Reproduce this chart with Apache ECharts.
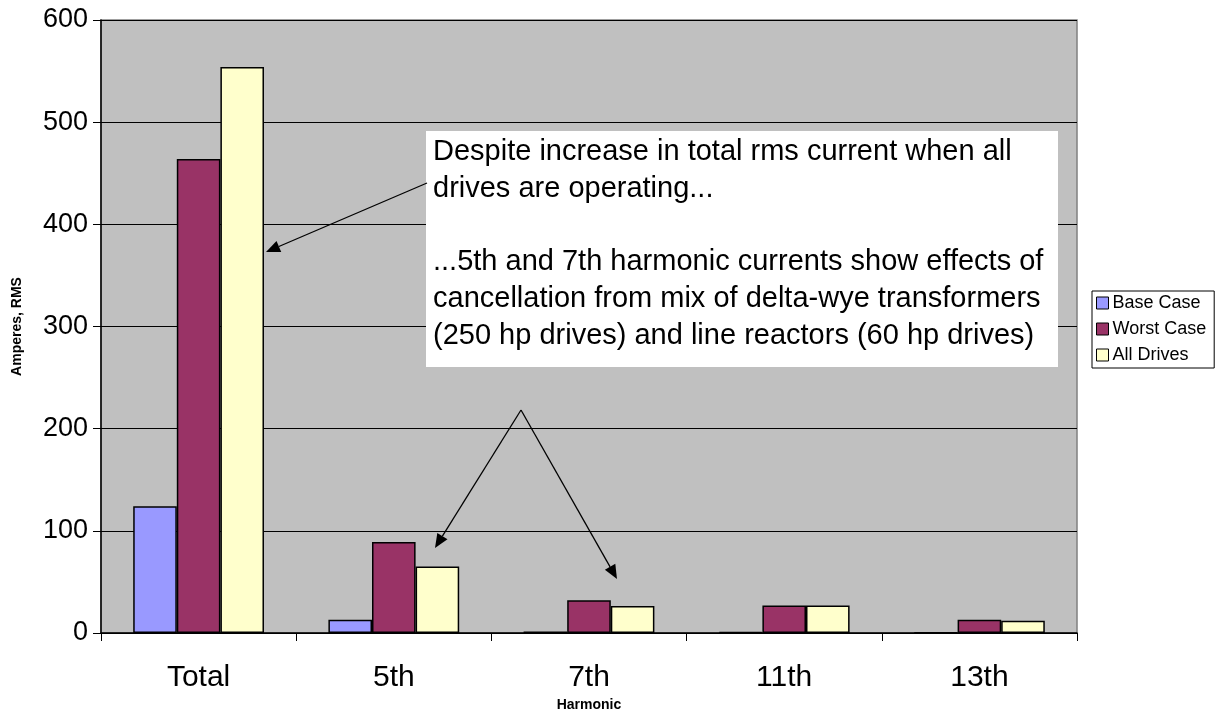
<!DOCTYPE html>
<html>
<head>
<meta charset="utf-8">
<script src="https://cdn.jsdelivr.net/npm/echarts@6/dist/echarts.min.js"></script>
<style>
html,body{margin:0;padding:0;background:#fff;}
#chart{width:1219px;height:723px;}
</style>
</head>
<body>
<div id="chart"></div>
<script>
const categories = ['Total', '5th', '7th', '11th', '13th'];
const baseCase = [124, 13, 1.5, 1, 0.5];
const worstCase = [464, 89, 32, 27, 13];
const allDrives = [554, 65, 26.5, 27, 12];
const yTicks = [0, 100, 200, 300, 400, 500, 600];
const seriesNames = ['Base Case', 'Worst Case', 'All Drives'];
const seriesColors = ['#9999FF', '#993366', '#FFFFCC'];
const noteLines1 = ['Despite increase in total rms current when all', 'drives are operating...'];
const noteLines2 = ['...5th and 7th harmonic currents show effects of', 'cancellation from mix of delta-wye transformers', '(250 hp drives) and line reactors (60 hp drives)'];

const FONT = 'Liberation Sans, Arial, sans-serif';
const chart = echarts.init(document.getElementById('chart'), null, {renderer: 'canvas'});

function arrow(x1, y1, x2, y2) {
  const ang = Math.atan2(y2 - y1, x2 - x1);
  const len = 14, half = 6;
  const bx = x2 - len * Math.cos(ang), by = y2 - len * Math.sin(ang);
  const px = -Math.sin(ang) * half, py = Math.cos(ang) * half;
  return [
    {type: 'line', shape: {x1: x1, y1: y1, x2: bx, y2: by}, style: {stroke: '#000', lineWidth: 1.3}, z: 100},
    {type: 'polygon', shape: {points: [[x2, y2], [bx + px, by + py], [bx - px, by - py]]}, style: {fill: '#000'}, z: 100}
  ];
}

const mk = (vals, i) => ({
  name: seriesNames[i],
  type: 'bar',
  data: vals,
  barGap: '0%',
  barCategoryGap: '33%',
  itemStyle: {color: seriesColors[i], borderColor: '#000', borderWidth: 1.5},
  emphasis: {disabled: true}
});

const graphics = [
  {type: 'rect', shape: {x: 426, y: 131, width: 632, height: 236}, style: {fill: '#fff'}, z: 90},
  {type: 'text', x: 433, y: 133, style: {text: noteLines1.join('\n'), font: '29px ' + FONT, fill: '#000', lineHeight: 37}, z: 95},
  {type: 'text', x: 433, y: 243, style: {text: noteLines2.join('\n'), font: '29px ' + FONT, fill: '#000', lineHeight: 37}, z: 95}
].concat(arrow(427, 183, 266, 252), arrow(521, 410, 435, 548), arrow(521, 410, 617, 579));

chart.setOption({
  animation: false,
  backgroundColor: '#fff',
  grid: {left: 101, right: 142, top: 20, bottom: 90, show: true, backgroundColor: '#C0C0C0', borderColor: '#808080', borderWidth: 1.5, containLabel: false, outerBoundsMode: 'none'},
  legend: {
    orient: 'vertical', left: 1092, top: 291,
    data: seriesNames,
    itemWidth: 12, itemHeight: 12, itemGap: 8,
    padding: [3, 8, 4, 4],
    borderColor: '#000', borderWidth: 1,
    textStyle: {fontFamily: FONT, fontSize: 18, color: '#000', padding: [0, 0, 0, -1]},
    icon: 'rect',
    itemStyle: {borderColor: '#000', borderWidth: 1}
  },
  xAxis: {
    type: 'category', data: categories,
    name: 'Harmonic', nameLocation: 'middle', nameGap: 63,
    nameTextStyle: {fontFamily: FONT, fontSize: 14, fontWeight: 'bold', color: '#000'},
    axisLine: {lineStyle: {color: '#000', width: 1.5}},
    axisTick: {show: true, length: 8, lineStyle: {color: '#000'}},
    axisLabel: {fontFamily: FONT, fontSize: 30, color: '#000', margin: 30}
  },
  yAxis: {
    type: 'value', min: 0, max: 600, interval: 100,
    name: 'Amperes, RMS', nameLocation: 'middle', nameGap: 77,
    nameTextStyle: {fontFamily: FONT, fontSize: 14, fontWeight: 'bold', color: '#000'},
    axisLine: {show: true, lineStyle: {color: '#000', width: 1.5}},
    axisTick: {show: true, length: 8, lineStyle: {color: '#000'}},
    axisLabel: {fontFamily: FONT, fontSize: 27, color: '#000', margin: 13,
      formatter: v => yTicks.includes(v) ? String(v) : ''},
    splitLine: {show: true, lineStyle: {color: '#000', width: 1}}
  },
  series: [mk(baseCase, 0), mk(worstCase, 1), mk(allDrives, 2)],
  graphic: graphics
});
</script>
</body>
</html>
